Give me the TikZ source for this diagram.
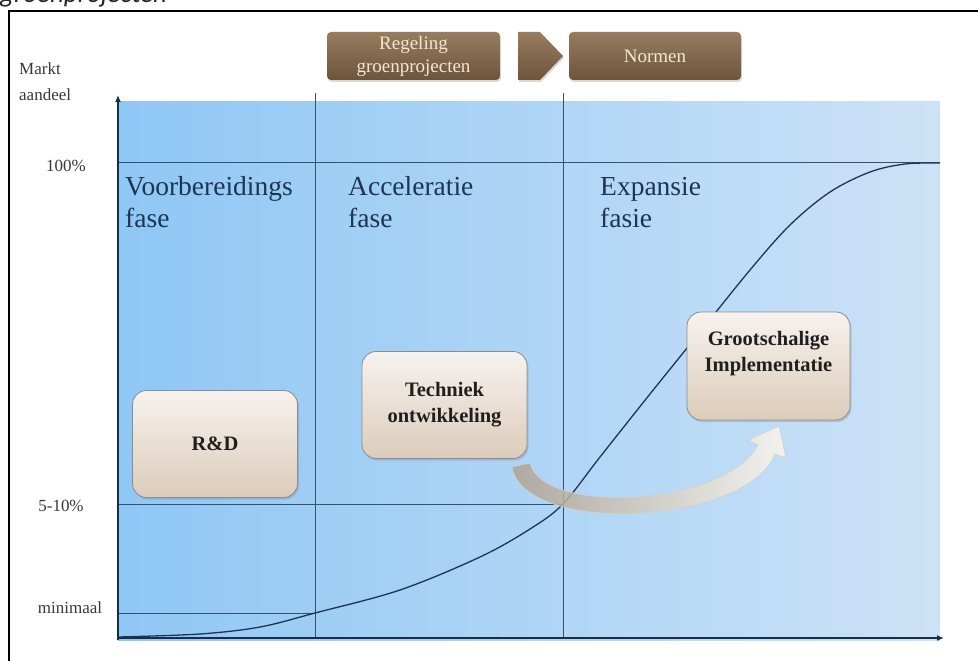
\documentclass[tikz,border=0pt]{standalone}
\usepackage{fontspec}
\setmainfont{Liberation Serif}
\newfontfamily\capfont{Carlito}
\usetikzlibrary{shadows,arrows.meta}

\definecolor{navy}{RGB}{30,53,82}
\definecolor{gridc}{RGB}{52,82,112}
\definecolor{brownT}{RGB}{152,124,94}
\definecolor{brownB}{RGB}{108,84,60}
\definecolor{cream}{RGB}{242,232,208}
\definecolor{boxT}{RGB}{247,242,239}
\definecolor{boxB}{RGB}{220,204,186}
\definecolor{blueL}{RGB}{143,199,245}
\definecolor{blueM}{RGB}{170,210,243}
\definecolor{blueR}{RGB}{205,226,246}
\definecolor{arrL}{RGB}{175,162,146}
\definecolor{arrR}{RGB}{250,246,238}

\begin{document}
\begin{tikzpicture}[x=1pt,y=-1pt,
  phase/.style={anchor=base west, align=left, text=navy, font=\fontsize{27.5}{32}\selectfont, inner sep=0pt},
  axlabel/.style={text=black!78, font=\fontsize{17}{26}\selectfont, inner sep=0pt},
  stepbox/.style={rounded corners=14pt, draw=black!45, line width=0.8pt, top color=boxT, bottom color=boxB,
    minimum width=165pt, minimum height=107pt, align=center, inner sep=2pt,
    font=\bfseries\fontsize{20.5}{26}\selectfont, text=black!88,
    drop shadow={shadow xshift=1.5pt, shadow yshift=-2pt, opacity=0.3}},
  banner/.style={rounded corners=4pt, top color=brownT, bottom color=brownB, inner sep=0pt,
    minimum height=48pt, align=center, text=cream, font=\fontsize{19}{23}\selectfont,
    drop shadow={shadow xshift=1pt, shadow yshift=-2pt, opacity=0.3}},
  gridline/.style={draw=gridc, line width=1pt},
  axisline/.style={draw=navy!85!black, line width=1.4pt, -{Latex[length=7pt,width=6pt]}},
  scurve/.style={draw=navy, line width=1.3pt}
]
\useasboundingbox (0,0) rectangle (978,661);
\fill[white] (0,0) rectangle (978,661);

% frame and cut caption
\draw[black, line width=2pt] (9,700) -- (9,11) -- (990,11);
\node[anchor=base west, inner sep=0pt, font=\capfont\itshape\fontsize{27}{30}\selectfont, text=black!85] (cap) at (0,3) {groenprojecten};

% blue field
\shade[left color=blueL, middle color=blueM, right color=blueR] (118,102) rectangle (940,640);

% grid lines
\coordinate (v1t) at (315,93);  \coordinate (v1b) at (315,638);
\coordinate (v2t) at (563,93);  \coordinate (v2b) at (563,638);
\coordinate (h1l) at (118,162); \coordinate (h1r) at (940,162);
\coordinate (h2l) at (118,504); \coordinate (h2r) at (563,504);
\coordinate (h3l) at (118,613); \coordinate (h3r) at (315,613);
\draw[gridline] (v1t) -- (v1b);
\draw[gridline] (v2t) -- (v2b);
\draw[gridline] (h1l) -- (h1r);
\draw[gridline] (h2l) -- (h2r);
\draw[gridline] (h3l) -- (h3r);

% axes
\coordinate (origin) at (118,640);
\coordinate (ytop) at (118,95);
\coordinate (xstart) at (118,638);
\coordinate (xend) at (944,638);
\draw[axisline] (origin) -- (ytop);
\draw[axisline] (xstart) -- (xend);

% S-curve
\draw[scurve] plot[smooth, tension=0.55] coordinates {(118,637) (200,634) (260,627) (315,613) (400,590) (480,557) (530,529) (563,504) (600,457) (650,394) (700,332) (750,270) (790,225) (830,192) (870,172) (905,164) (940,163)};

% banners
\node[banner, minimum width=173pt] (reg) at (413.5,56) {Regeling\\groenprojecten};
\coordinate (chev) at (518,32);
\shade[top color=brownT, bottom color=brownB, drop shadow={shadow xshift=1pt, shadow yshift=-2pt, opacity=0.3}]
  (chev) -- ++(22,0) -- ++(23,24) -- ++(-23,24) -- ++(-22,0) -- cycle;
\node[banner, minimum width=172pt] (norm) at (655,56) {Normen};

% phase labels
\node[phase] (p1) at (125,227) {Voorbereidings\\fase};
\node[phase] (p2) at (348,227) {Acceleratie\\fase};
\node[phase] (p3) at (600,227) {Expansie\\fasie};

% axis labels
\node[axlabel, anchor=base west, align=left] (ylab) at (19,100) {Markt\\aandeel};
\node[axlabel] (l100) at (66,166) {100\%};
\node[axlabel] (l510) at (61,506) {5-10\%};
\node[axlabel] (lmin) at (70,608) {minimaal};

% boxes
\node[stepbox] (rd) at (215,444) {R\&D};
\node[stepbox] (tech) at (444.5,405) {Techniek\\ontwikkeling};
\node[stepbox, minimum width=163pt, minimum height=108pt] (groot) at (768.5,366) {Grootschalige\\Implementatie\\[4pt]};

% curved arrow from Techniek to Grootschalige
\path[draw=black!18, line width=0.6pt, left color=arrL, right color=arrR, fill opacity=0.85]
  (512,467) .. controls (524,536) and (746,526) .. (775,454)
  -- (786,458) -- (779,426) -- (748,440) -- (758,445)
  .. controls (726,506) and (543,516) .. (530,463) -- cycle;
\end{tikzpicture}
\end{document}
